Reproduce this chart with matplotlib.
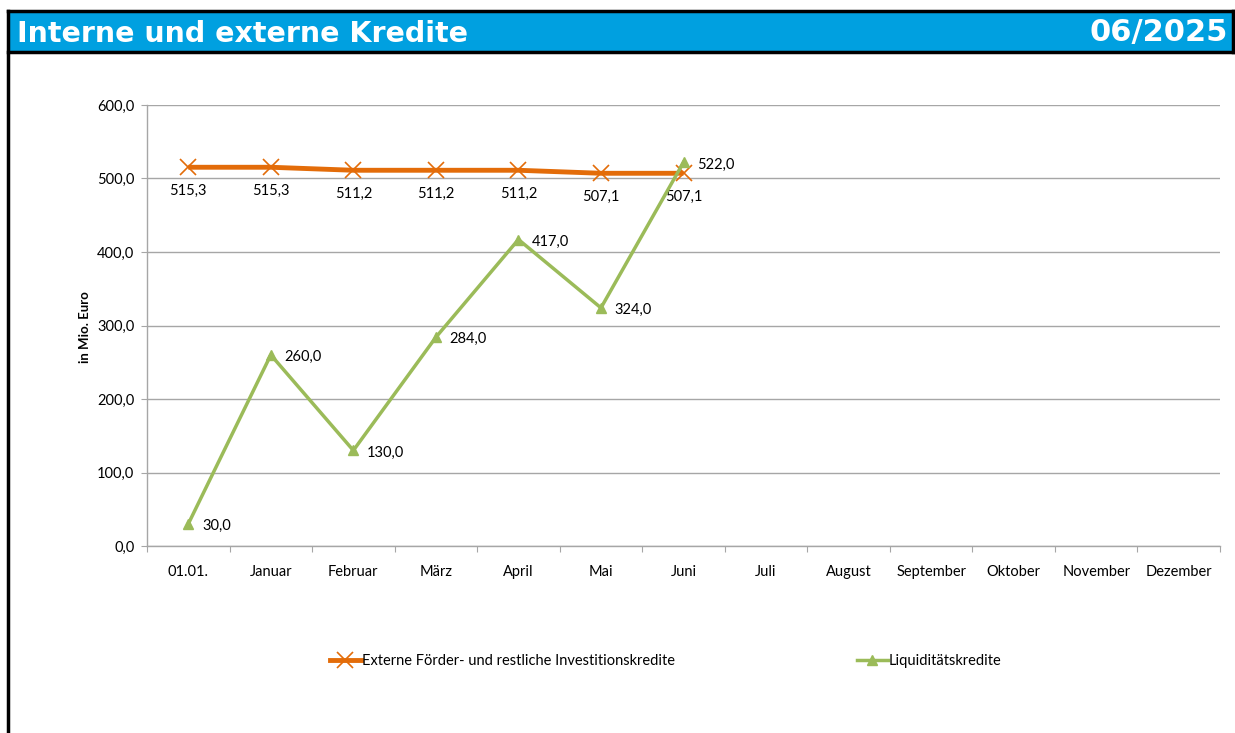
import matplotlib
matplotlib.use("Agg")
import matplotlib.pyplot as plt
from matplotlib.patches import Rectangle
from matplotlib.lines import Line2D

categories = ["01.01.", "Januar", "Februar", "März", "April", "Mai", "Juni",
              "Juli", "August", "September", "Oktober", "November", "Dezember"]
extern = [515.3, 515.3, 511.2, 511.2, 511.2, 507.1, 507.1]
liquid = [30.0, 260.0, 130.0, 284.0, 417.0, 324.0, 522.0]
yticks = [0, 100, 200, 300, 400, 500, 600]

title = "Interne und externe Kredite"
period = "06/2025"
ylabel = "in Mio. Euro"
name_ext = "Externe Förder- und restliche Investitionskredite"
name_liq = "Liquiditätskredite"

ORANGE = "#E36C09"
GREEN = "#9BBB59"
GRID = "#A6A6A6"
BLUE = "#00A0E0"

W, H = 1235, 733
fig = plt.figure(figsize=(W / 100, H / 100), dpi=100)
fig.patch.set_facecolor("white")

def fx(px):
    return px / W

def fy(py):
    return 1 - py / H

# header bar
fig.patches.append(Rectangle((fx(8), fy(52)), fx(1233) - fx(8), fy(11) - fy(52),
                             transform=fig.transFigure, facecolor=BLUE,
                             edgecolor="none", zorder=0))
for (x0, y0, x1, y1) in [(8, 11, 1233, 11), (8, 52, 1233, 52), (8, 11, 8, 733), (1233, 11, 1233, 52)]:
    fig.add_artist(Line2D([fx(x0), fx(x1)], [fy(y0), fy(y1)], transform=fig.transFigure,
                          color="black", lw=2.5, solid_capstyle="projecting"))
fig.text(fx(17), fy(34), title, color="white", fontsize=20.5, fontweight="bold",
         family="DejaVu Sans", va="center", ha="left")
fig.text(fx(1228), fy(33), period, color="white", fontsize=22, fontweight="bold",
         family="DejaVu Sans", va="center", ha="right")

ax = fig.add_axes([fx(147), fy(546), fx(1220) - fx(147), fy(105) - fy(546)])
FONT = "Lato"
FS = 10.5

x_ext = list(range(len(extern)))
x_liq = list(range(len(liquid)))

ax.plot(x_ext, extern, color=ORANGE, lw=3.5, marker="x", markersize=11,
        markeredgewidth=1.2, zorder=3, solid_capstyle="butt")
ax.plot(x_liq, liquid, color=GREEN, lw=2.5, marker="^", markersize=7,
        zorder=4)

for xi, v in zip(x_ext, extern):
    ax.annotate(f"{v:.1f}".replace(".", ","), (xi, v), xytext=(0, -17),
                textcoords="offset points", ha="center", va="center",
                fontsize=FS, family=FONT, color="black")
for xi, v in zip(x_liq, liquid):
    ax.annotate(f"{v:.1f}".replace(".", ","), (xi, v), xytext=(10, -1.5),
                textcoords="offset points", ha="left", va="center",
                fontsize=FS, family=FONT, color="black")

ax.set_xlim(-0.5, len(categories) - 0.5)
ax.set_ylim(0, 600)
ax.set_yticks(yticks)
ax.set_yticklabels([f"{v:.1f}".replace(".", ",") for v in yticks], family=FONT, fontsize=FS)
ax.set_xticks([i - 0.5 for i in range(len(categories) + 1)])
ax.set_xticklabels([])
ax.set_xticks(range(len(categories)), minor=True)
ax.set_xticklabels(categories, minor=True, family=FONT, fontsize=FS)
ax.tick_params(axis="x", which="major", length=4, color=GRID, direction="out")
ax.tick_params(axis="x", which="minor", length=0, pad=14)
ax.tick_params(axis="y", length=4, color=GRID, pad=5)

ax.grid(axis="y", color=GRID, lw=1)
ax.set_axisbelow(True)
for s in ["top", "right"]:
    ax.spines[s].set_visible(False)
for s in ["left", "bottom"]:
    ax.spines[s].set_color(GRID)
    ax.spines[s].set_linewidth(1)

fig.text(fx(85), fy(327), ylabel, rotation=90, fontsize=9.5, fontweight="bold",
         family=FONT, ha="center", va="center")

h1 = Line2D([], [], color=ORANGE, lw=3.5, marker="x", markersize=11, markeredgewidth=1.2)
h2 = Line2D([], [], color=GREEN, lw=2.5, marker="^", markersize=7)
fig.legend([h1], [name_ext], loc="center left", bbox_to_anchor=(fx(330), fy(661)),
           frameon=False, prop={"family": FONT, "size": FS}, handlelength=2.1,
           handletextpad=0.1, borderpad=0, borderaxespad=0)
fig.legend([h2], [name_liq], loc="center left", bbox_to_anchor=(fx(857), fy(661)),
           frameon=False, prop={"family": FONT, "size": FS}, handlelength=2.1,
           handletextpad=0.1, borderpad=0, borderaxespad=0)

fig.savefig("out.png", dpi=100)
